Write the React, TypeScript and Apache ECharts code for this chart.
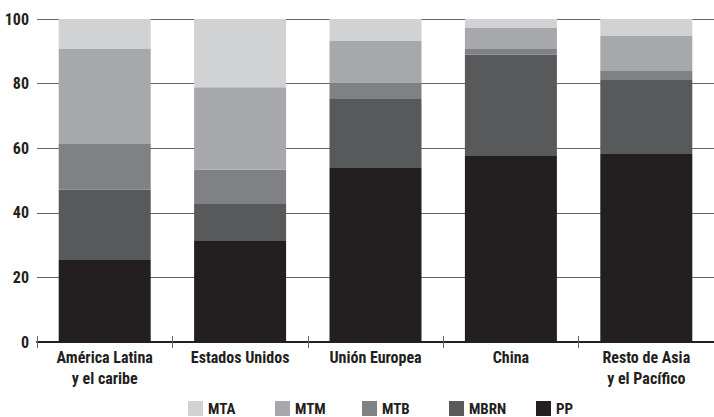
import React, { useEffect, useRef } from "react";
import * as echarts from "echarts";

const categories = ["América Latina\ny el caribe", "Estados Unidos", "Unión Europea", "China", "Resto de Asia\ny el Pacífico"];
const seriesNames = ["MTA", "MTM", "MTB", "MBRN", "PP"];
const PP = [25.4, 31.3, 53.9, 57.6, 58.2];
const MBRN = [21.7, 11.4, 21.3, 31.3, 22.9];
const MTB = [14.2, 10.6, 5.0, 1.8, 2.8];
const MTM = [29.4, 25.6, 13.0, 6.5, 10.8];
const MTA = [9.3, 21.1, 6.8, 2.8, 5.3];
const yTicks = [0, 20, 40, 60, 80, 100];

const FONT = "'Roboto Condensed', 'Liberation Sans Narrow', 'DejaVu Sans Condensed', sans-serif";
const TEXT = "#231f20";

export default function App() {
  const ref = useRef<HTMLDivElement>(null);
  useEffect(() => {
    if (!ref.current) return;
    const chart = echarts.init(ref.current, null, { renderer: "svg" });
    const colors: Record<string, string> = {
      MTA: "#d1d2d4",
      MTM: "#a7a8ab",
      MTB: "#808184",
      MBRN: "#58595b",
      PP: "#231f20",
    };
    const dataMap: Record<string, number[]> = { MTA, MTM, MTB, MBRN, PP };
    const stackOrder = ["PP", "MBRN", "MTB", "MTM", "MTA"];
    chart.setOption({
      animation: false,
      textStyle: { fontFamily: FONT },
      grid: { left: 37, top: 19, width: 680, height: 323, containLabel: false },
      legend: seriesNames.map((name, i) => ({
        data: [name],
        left: 188 + 87 * i,
        top: 401,
        padding: 0,
        itemWidth: 15,
        itemHeight: 15,
        icon: "rect",
        selectedMode: false,
        textStyle: { fontFamily: FONT, fontSize: 15, fontWeight: "bold", color: TEXT, padding: [8, 0, 0, 0] },
      })),
      xAxis: [
        {
          type: "category",
          data: categories,
          axisLine: { lineStyle: { color: TEXT, width: 2 } },
          axisTick: { show: true, length: 6, lineStyle: { color: "#666", width: 1 } },
          axisLabel: { interval: 0, fontFamily: FONT, fontSize: 16, fontWeight: "bold", color: TEXT, lineHeight: 21, margin: 5 },
        },
        {
          type: "category",
          data: categories,
          position: "bottom",
          axisLine: { show: false },
          axisTick: { show: true, inside: true, length: 6, lineStyle: { color: "#666", width: 1 } },
          axisLabel: { show: false },
        },
      ],
      yAxis: {
        type: "value",
        min: yTicks[0],
        max: yTicks[yTicks.length - 1],
        interval: 20,
        axisLine: { show: false },
        axisTick: { show: false },
        axisLabel: { fontFamily: FONT, fontSize: 16, fontWeight: "bold", color: TEXT, margin: 8 },
        splitLine: { lineStyle: { color: "#666", width: 1 } },
      },
      series: stackOrder.map((name) => ({
        name,
        type: "bar",
        stack: "total",
        barWidth: 92,
        data: dataMap[name],
        itemStyle: { color: colors[name] },
        z: 3,
      })),
    });
    return () => chart.dispose();
  }, []);
  return <div ref={ref} style={{ width: 714, height: 417, position: "absolute", left: 0, top: 0 }} />;
}
